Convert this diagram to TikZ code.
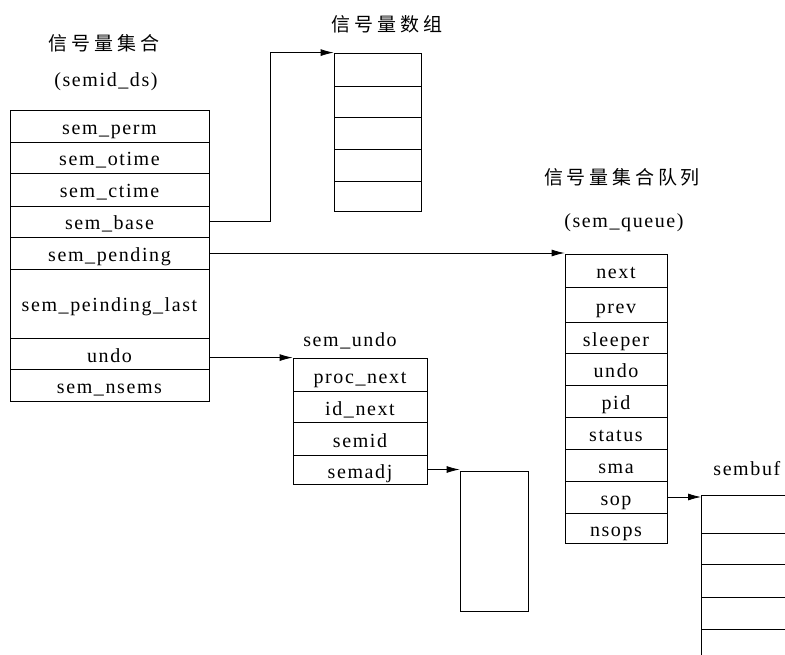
\documentclass[tikz,border=0pt]{standalone}
\usepackage{fontspec}
\setmainfont{Liberation Serif}
\newfontfamily\lblfont[LetterSpace=8]{Liberation Serif}
\newfontfamily\cjkfont[LetterSpace=20]{Noto Sans CJK SC}
\usetikzlibrary{arrows.meta}
\begin{document}
\begin{tikzpicture}[x=1pt,y=-1pt,
  line width=0.8pt,
  cell/.style={draw, inner sep=0pt, text height=17pt, text depth=0pt, font=\fontsize{20}{24}\lblfont},
  lbl/.style={inner sep=0pt, text height=17pt, text depth=0pt, font=\fontsize{20}{24}\lblfont},
  title/.style={inner sep=0pt, font=\fontsize{19}{23}\cjkfont},
  arr/.style={-{Latex[length=13pt,width=7pt]}}]
\useasboundingbox (0,0) rectangle (785,655);
\fill[white] (0,0) rectangle (785,655);

% ---- semid_ds ----
\node[title] (t1) at (104,43) {信号量集合};
\node[lbl] (t1b) at (106,78.5) {(semid\_ds)};
\begin{scope}[every node/.style={cell, minimum width=199pt}]
\node[minimum height=32pt] (perm) at (109.5,126) {sem\_perm};
\node[minimum height=31pt] (otime) at (109.5,157.5) {sem\_otime};
\node[minimum height=33pt] (ctime) at (109.5,189.5) {sem\_ctime};
\node[minimum height=31pt] (base) at (109.5,221.5) {sem\_base};
\node[minimum height=32pt] (pend) at (109.5,253) {sem\_pending};
\node[minimum height=69pt] (last) at (109.5,303.5) {sem\_peinding\_last};
\node[minimum height=31pt] (undo) at (109.5,353.5) {undo};
\node[minimum height=32pt] (nsems) at (109.5,385) {sem\_nsems};
\end{scope}

% ---- semaphore array ----
\node[title] (t2) at (387,24) {信号量数组};
\begin{scope}[every node/.style={cell, minimum width=87pt}]
\node[minimum height=33pt] (a1) at (377.5,69.5) {};
\node[minimum height=31pt] (a2) at (377.5,101.5) {};
\node[minimum height=32pt] (a3) at (377.5,133) {};
\node[minimum height=32pt] (a4) at (377.5,165) {};
\node[minimum height=30pt] (a5) at (377.5,196) {};
\end{scope}

% ---- sem_queue ----
\node[title] (t3) at (622,177) {信号量集合队列};
\node[lbl] (t3b) at (624,219.5) {(sem\_queue)};
\begin{scope}[every node/.style={cell, minimum width=102pt}]
\node[minimum height=33pt] (qnext) at (616,270.5) {next};
\node[minimum height=35pt] (qprev) at (616,304.5) {prev};
\node[minimum height=31pt] (qsleep) at (616,337.5) {sleeper};
\node[minimum height=32pt] (qundo) at (616,369) {undo};
\node[minimum height=32pt] (qpid) at (616,401) {pid};
\node[minimum height=32pt] (qstat) at (616,433) {status};
\node[minimum height=32pt] (qsma) at (616,465) {sma};
\node[minimum height=32pt] (qsop) at (616,497) {sop};
\node[minimum height=30pt] (qnsops) at (616,528) {nsops};
\end{scope}

% ---- sem_undo ----
\node[lbl] (t4) at (350,338) {sem\_undo};
\begin{scope}[every node/.style={cell, minimum width=134pt}]
\node[minimum height=33pt] (uproc) at (360,374.5) {proc\_next};
\node[minimum height=31pt] (uid) at (360,406.5) {id\_next};
\node[minimum height=33pt] (usemid) at (360,438.5) {semid};
\node[minimum height=29pt] (uadj) at (360,469.5) {semadj};
\end{scope}
\node[cell, minimum width=68pt, minimum height=140pt] (adjbox) at (494,541) {};

% ---- sembuf ----
\node[lbl, anchor=west] (t5) at (713,466.5) {sembuf};
\coordinate (sb) at (701,495);
\draw (701,655) -- (sb) -- (790,495);
\foreach \yy in {533,564,597,629} \draw (701,\yy) -- (790,\yy);

% ---- connectors ----
\draw[arr] (base.east) -- ++(61,0) |- (a1.north west);
\draw[arr] (pend.east) -- (pend.east -| qnext.north west);
\draw[arr] (undo.east |- uproc.north west) -- (uproc.north west);
\draw[arr] (uadj.east) -- (uadj.east -| adjbox.north west);
\draw[arr] (qsop.east) -- (qsop.east -| sb);
\end{tikzpicture}
\end{document}
